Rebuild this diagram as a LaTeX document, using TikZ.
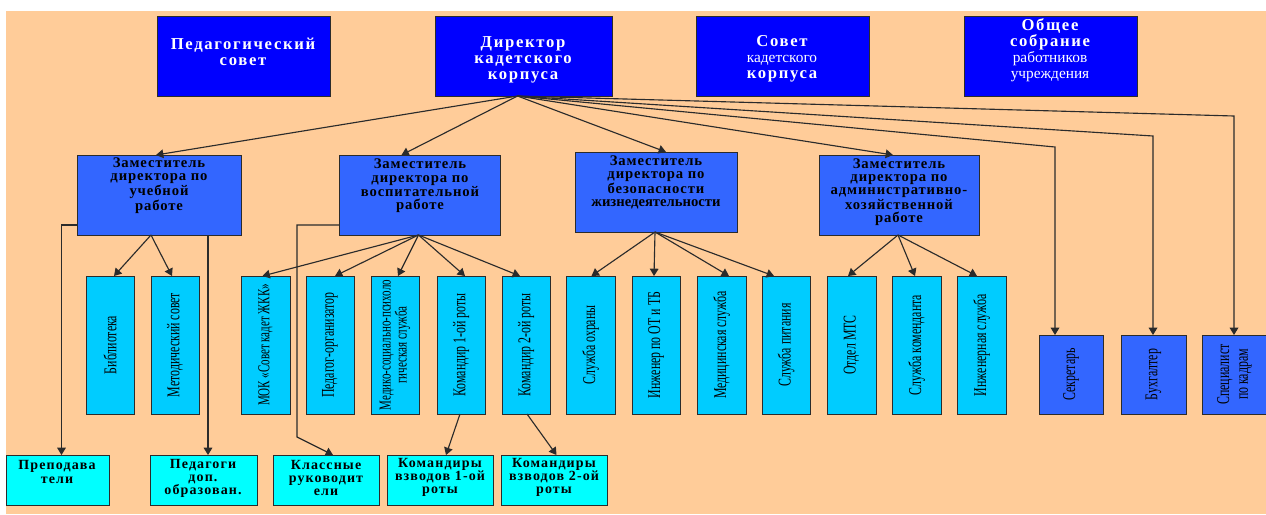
\documentclass[tikz,border=0pt]{standalone}
\usepackage{fontspec}
\setmainfont{Liberation Serif}
\newfontfamily\topF[LetterSpace=10]{Liberation Serif}
\newfontfamily\depF[LetterSpace=6]{Liberation Serif}
\newfontfamily\botF[LetterSpace=8]{Liberation Serif}
\newfontfamily\vF[FakeStretch=0.66]{Liberation Serif}
\usetikzlibrary{arrows.meta,calc}
\definecolor{peach}{HTML}{FFCC99}
\definecolor{topblue}{HTML}{0000FF}
\definecolor{depblue}{HTML}{3366FF}
\definecolor{unitcyan}{HTML}{00CCFF}
\definecolor{aqua}{HTML}{00FFFF}
\definecolor{edge}{HTML}{2B2B2B}
\newcommand{\bx}[6]{\node[#6, minimum width={(#4-#2)*0.75pt}, minimum height={(#5-#3)*0.75pt}] (#1) at ({(#2+#4)/2},{(#3+#5)/2}) {};}
\tikzset{
  basebox/.style={draw=edge, line width=0.7pt, inner sep=0pt, outer sep=0pt, rectangle},
  topbox/.style={basebox, fill=topblue},
  depbox/.style={basebox, fill=depblue},
  unitbox/.style={basebox, fill=unitcyan},
  staffbox/.style={basebox, fill=depblue},
  botbox/.style={basebox, fill=aqua},
  toptext/.style={text=white, align=center, inner sep=0pt, font={\fontsize{12.5}{12}\topF\bfseries}},
  deptext/.style={text=black, align=center, inner sep=0pt, font={\fontsize{11}{9.8}\depF\bfseries}},
  bottext/.style={text=black, align=center, inner sep=0pt, font={\fontsize{10.5}{9.8}\botF\bfseries}},
  vtext/.style={text=black, rotate=90, align=center, inner sep=0pt, font={\fontsize{13.5}{11.5}\vF}},
  conn/.style={draw=edge, line width=0.85pt},
  arr/.style={conn, -{Triangle[length=5.5pt,width=6.5pt]}},
}
\begin{document}
\begin{tikzpicture}[x=0.75pt,y=-0.75pt]
\useasboundingbox (0,0) rectangle (1266,514);
\fill[white] (0,0) rectangle (1266,514);
\fill[peach] (6,11) rectangle (1266,514);

% top row
\bx{ped}{157}{16}{330}{96}{topbox}
\bx{dir}{435}{16}{612}{96}{topbox}
\bx{sov}{696}{16}{869}{96}{topbox}
\bx{obs}{964}{16}{1137}{96}{topbox}
\node[toptext] (tped) at (243,52) {Педагогический\\совет};
\node[toptext] (tdir) at (523,60) {Директор\\кадетского\\корпуса};
\node[toptext] (tsov) at (782,59) {Совет\\{\mdseries\fontsize{11.5}{12}\selectfont\addfontfeature{LetterSpace=0}кадетского}\\корпуса};
\node[toptext] (tobs) at (1050,50) {Общее\\собрание\\{\mdseries\fontsize{11.5}{13}\selectfont\addfontfeature{LetterSpace=0}работников}\\{\mdseries\fontsize{11.5}{13}\selectfont\addfontfeature{LetterSpace=0}учреждения}};

% deputies
\bx{zU}{77}{155}{241}{235}{depbox}
\bx{zV}{339}{155}{500}{235}{depbox}
\bx{zB}{575}{152}{737}{232}{depbox}
\bx{zA}{819}{155}{979}{235}{depbox}
\node[deptext] (tzU) at (159,186) {Заместитель\\директора по\\учебной\\работе};
\node[deptext] (tzV) at (420,186) {Заместитель\\директора по\\воспитательной\\работе};
\node[deptext] (tzB) at (656,182) {Заместитель\\директора по\\безопасности\\{\addfontfeature{LetterSpace=0}жизнедеятельности}};
\node[deptext] (tzA) at (899,192) {Заместитель\\директора по\\административно-\\хозяйственной\\работе};

% units
\bx{bib}{86}{276}{134}{414}{unitbox}
\bx{met}{151}{276}{199}{414}{unitbox}
\bx{mok}{241}{276}{290}{414}{unitbox}
\bx{por}{306}{276}{354}{414}{unitbox}
\bx{msp}{371}{276}{419}{414}{unitbox}
\bx{kr1}{437}{276}{485}{414}{unitbox}
\bx{kr2}{502}{276}{550}{414}{unitbox}
\bx{ohr}{566}{276}{615}{414}{unitbox}
\bx{iot}{632}{276}{680}{414}{unitbox}
\bx{med}{697}{276}{746}{414}{unitbox}
\bx{pit}{762}{276}{810}{414}{unitbox}
\bx{mts}{827}{276}{876}{414}{unitbox}
\bx{kom}{892}{276}{941}{414}{unitbox}
\bx{ing}{957}{276}{1006}{414}{unitbox}
\node[vtext] (tbib) at (bib.center) {Библиотека};
\node[vtext] (tmet) at (met.center) {Методический совет};
\node[vtext, font={\fontsize{12.5}{11.5}\vF}] (tmok) at (mok.center) {МОК «Совет кадет ЖКК»};
\node[vtext] (tpor) at (por.center) {Педагог-организатор};
\node[vtext, font={\fontsize{12.5}{12}\vF}] (tmsp) at (msp.center) {Медико-социально-психоло\\гическая служба};
\node[vtext] (tkr1) at (kr1.center) {Командир 1-ой роты};
\node[vtext] (tkr2) at (kr2.center) {Командир 2-ой роты};
\node[vtext] (tohr) at (ohr.center) {Служба охраны};
\node[vtext] (tiot) at (iot.center) {Инженер по ОТ и ТБ};
\node[vtext] (tmed) at (med.center) {Медицинская служба};
\node[vtext] (tpit) at (pit.center) {Служба питания};
\node[vtext] (tmts) at (mts.center) {Отдел МТС};
\node[vtext] (tkom) at (kom.center) {Служба коменданта};
\node[vtext] (ting) at (ing.center) {Инженерная служба};

% staff
\bx{sek}{1039}{335}{1103}{414}{staffbox}
\bx{buh}{1121}{335}{1186}{414}{staffbox}
\bx{spk}{1202}{335}{1267}{414}{staffbox}
\node[vtext] (tsek) at (sek.center) {Секретарь};
\node[vtext] (tbuh) at (buh.center) {Бухгалтер};
\node[vtext, font={\fontsize{13.5}{14}\vF}] (tspk) at (spk.center) {Специалист\\по кадрам};

% bottom row
\bx{pre}{6}{455}{109}{505}{botbox}
\bx{pdo}{150}{455}{257}{505}{botbox}
\bx{kla}{273}{455}{379}{505}{botbox}
\bx{vz1}{387}{455}{493}{505}{botbox}
\bx{vz2}{501}{455}{607}{505}{botbox}
\node[bottext] (tpre) at (57,472) {Преподава\\тели};
\node[bottext] (tpdo) at (203,478) {Педагоги\\доп.\\образован.};
\node[bottext] (tkla) at (326,478) {Классные\\руководит\\ели};
\node[bottext] (tvz1) at (440,477) {Командиры\\взводов 1-ой\\роты};
\node[bottext] (tvz2) at (554,477) {Командиры\\взводов 2-ой\\роты};

% connectors from director
\coordinate (dS) at ($(dir.south)+(-6,0)$);
\draw[arr] (dS) -- ($(zU.north)+(-3,0)$);
\draw[arr] (dS) -- ($(zV.north)+(-18,0)$);
\draw[arr] (dS) -- ($(zB.north)+(10,0)$);
\draw[arr] (dS) -- ($(zA.north)+(-6,0)$);
\coordinate (kSek) at (1055,147);
\coordinate (kBuh) at (1153,136);
\coordinate (kSpk) at (1234,116);
\draw[arr] (dS) -- (kSek) -- (kSek |- sek.north);
\draw[arr] (dS) -- (kBuh) -- (kBuh |- buh.north);
\draw[arr] (dS) -- (kSpk) -- (kSpk |- spk.north);

% deputy U
\coordinate (uS) at ($(zU.south)+(-8,0)$);
\draw[arr] (uS) -- ($(bib.north)+(4,0)$);
\draw[arr] (uS) -- ($(met.north)+(-3,0)$);
\coordinate (preT) at ($(pre.north)+(4,0)$);
\draw[arr] ($(zU.south west)+(0,-10)$) -| (preT);
\coordinate (pdoT) at ($(pdo.north)+(4.5,0)$);
\draw[arr] (zU.south -| pdoT) -- (pdoT);

% deputy V
\coordinate (vS) at ($(zV.south)+(-1,0)$);
\draw[arr] (vS) -- ($(mok.north)+(-3,0)$);
\draw[arr] (vS) -- ($(por.north)+(5,0)$);
\draw[arr] (vS) -- ($(msp.north)+(3,0)$);
\draw[arr] (vS) -- ($(kr1.north)+(4,0)$);
\draw[arr] (vS) -- ($(kr2.north)+(-6,0)$);
\coordinate (klK) at (297,437);
\draw[arr] ($(zV.south west)+(0,-10)$) -| (klK) -- ($(kla.north)+(7,0)$);
\draw[arr] ($(kr1.south)+(-1,0)$) -- ($(vz1.north)+(6,0)$);
\draw[arr] ($(kr2.south)+(1,0)$) -- ($(vz2.north)+(2.5,0)$);

% deputy B
\coordinate (bS) at ($(zB.south)+(-1,0)$);
\draw[arr] (bS) -- ($(ohr.north)+(1,0)$);
\draw[arr] (bS) -- ($(iot.north)+(-2,0)$);
\draw[arr] (bS) -- ($(med.north)+(7.5,0)$);
\draw[arr] (bS) -- ($(pit.north)+(-12,0)$);

% deputy A
\coordinate (aS) at ($(zA.south)+(-1,0)$);
\draw[arr] (aS) -- ($(mts.north)+(-3.5,0)$);
\draw[arr] (aS) -- ($(kom.north)+(-1.5,0)$);
\draw[arr] (aS) -- ($(ing.north)+(-4.5,0)$);
\end{tikzpicture}
\end{document}
